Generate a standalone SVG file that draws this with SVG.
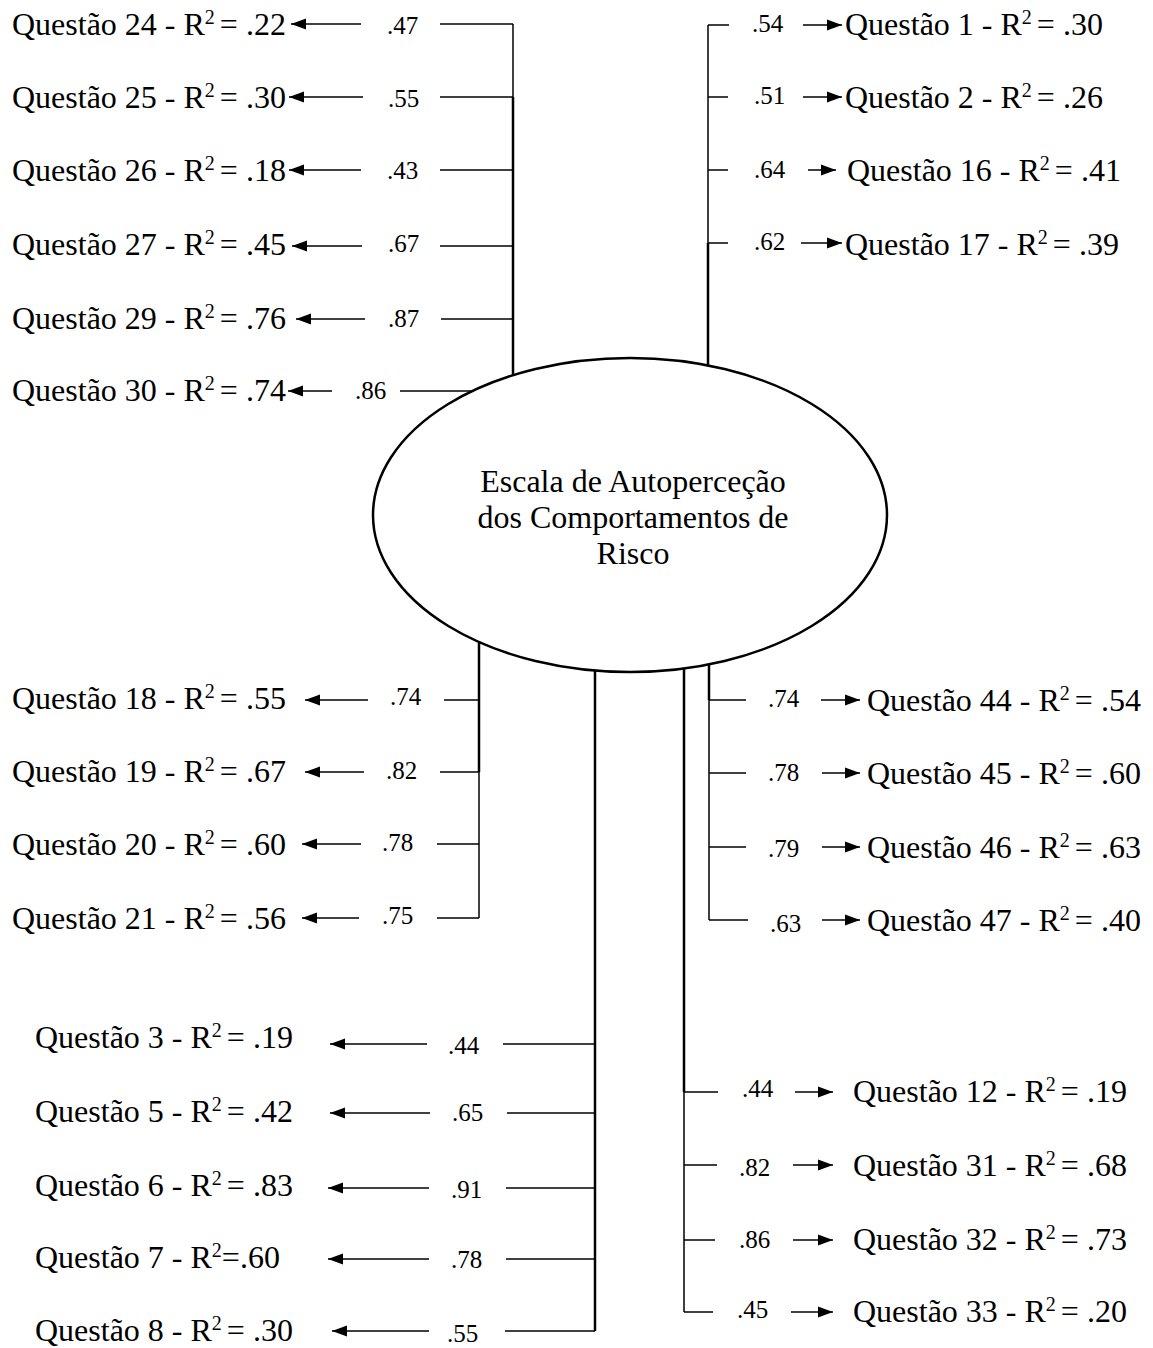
<svg xmlns="http://www.w3.org/2000/svg" width="1153" height="1348" viewBox="0 0 1153 1348">
<defs>
<style>
.t{font-family:"Liberation Serif","Times New Roman",serif;font-size:32px;fill:#000}
.n{font-family:"Liberation Serif","Times New Roman",serif;font-size:25px;fill:#000}
.s{font-size:20px}
.c{text-anchor:middle}
.ln{stroke:#000;stroke-width:1.5;fill:none}
.tk{stroke:#000;stroke-width:2.5;fill:none}
.ar{stroke:#000;stroke-width:1.5;fill:none;marker-end:url(#ah)}
</style>
<marker id="ah" markerUnits="userSpaceOnUse" markerWidth="16" markerHeight="12" refX="15" refY="6" orient="auto">
<path d="M0,0.5 L15,6 L0,11.5 z" fill="#000"/>
</marker>
</defs>
<rect width="1153" height="1348" fill="#fff"/>

<g id="connectors">
<!-- top-left -->
<line class="ln" x1="513" y1="24" x2="513" y2="97"/>
<line class="tk" x1="513" y1="97" x2="513" y2="377"/>
<line class="ln" x1="440" y1="24" x2="513" y2="24"/>
<line class="ln" x1="440" y1="97" x2="513" y2="97"/>
<line class="ln" x1="440" y1="170" x2="513" y2="170"/>
<line class="ln" x1="440" y1="246" x2="513" y2="246"/>
<line class="ln" x1="441" y1="319" x2="513" y2="319"/>
<line class="ln" x1="400" y1="391" x2="478" y2="391"/>
<line class="ar" x1="361" y1="24" x2="291" y2="24"/>
<line class="ar" x1="363" y1="97" x2="289" y2="97"/>
<line class="ar" x1="361" y1="170" x2="289" y2="170"/>
<line class="ar" x1="362" y1="246" x2="292" y2="246"/>
<line class="ar" x1="365" y1="319" x2="296" y2="319"/>
<line class="ar" x1="332" y1="391" x2="288" y2="391"/>
<!-- top-right -->
<line class="ln" x1="708" y1="25" x2="708" y2="243"/>
<line class="tk" x1="708" y1="243" x2="708" y2="366"/>
<line class="ln" x1="708" y1="25" x2="729" y2="25"/>
<line class="ln" x1="708" y1="97" x2="728" y2="97"/>
<line class="ln" x1="708" y1="170" x2="728" y2="170"/>
<line class="ln" x1="708" y1="243" x2="728" y2="243"/>
<line class="ar" x1="803" y1="25" x2="842" y2="25"/>
<line class="ar" x1="803" y1="97" x2="842" y2="97"/>
<line class="ar" x1="808" y1="170" x2="836" y2="170"/>
<line class="ar" x1="801" y1="243" x2="842" y2="243"/>
<!-- middle-left -->
<line class="tk" x1="479" y1="643" x2="479" y2="772"/>
<line class="ln" x1="479" y1="772" x2="479" y2="918"/>
<line class="ln" x1="444" y1="700" x2="479" y2="700"/>
<line class="ln" x1="440" y1="772" x2="479" y2="772"/>
<line class="ln" x1="437" y1="844" x2="479" y2="844"/>
<line class="ln" x1="437" y1="918" x2="479" y2="918"/>
<line class="ar" x1="368" y1="700" x2="305" y2="700"/>
<line class="ar" x1="364" y1="772" x2="305" y2="772"/>
<line class="ar" x1="361" y1="844" x2="302" y2="844"/>
<line class="ar" x1="359" y1="918" x2="302" y2="918"/>
<!-- bottom-center -->
<line class="tk" x1="595" y1="671" x2="595" y2="1331"/>
<line class="ln" x1="503" y1="1044" x2="595" y2="1044"/>
<line class="ln" x1="507" y1="1113" x2="595" y2="1113"/>
<line class="ln" x1="506" y1="1188" x2="595" y2="1188"/>
<line class="ln" x1="506" y1="1259" x2="595" y2="1259"/>
<line class="ln" x1="505" y1="1331" x2="595" y2="1331"/>
<line class="ar" x1="427" y1="1044" x2="330" y2="1044"/>
<line class="ar" x1="430" y1="1113" x2="330" y2="1113"/>
<line class="ar" x1="429" y1="1188" x2="328" y2="1188"/>
<line class="ar" x1="429" y1="1259" x2="328" y2="1259"/>
<line class="ar" x1="429" y1="1331" x2="332" y2="1331"/>
<!-- right-middle -->
<line class="tk" x1="709" y1="664" x2="709" y2="700"/>
<line class="ln" x1="709" y1="700" x2="709" y2="920"/>
<line class="ln" x1="709" y1="700" x2="746" y2="700"/>
<line class="ln" x1="709" y1="773" x2="746" y2="773"/>
<line class="ln" x1="709" y1="847" x2="746" y2="847"/>
<line class="ln" x1="709" y1="920" x2="748" y2="920"/>
<line class="ar" x1="821" y1="700" x2="860" y2="700"/>
<line class="ar" x1="822" y1="773" x2="860" y2="773"/>
<line class="ar" x1="822" y1="847" x2="860" y2="847"/>
<line class="ar" x1="822" y1="920" x2="860" y2="920"/>
<!-- bottom-right -->
<line class="tk" x1="684" y1="668" x2="684" y2="1092"/>
<line class="ln" x1="684" y1="1092" x2="684" y2="1312"/>
<line class="ln" x1="684" y1="1092" x2="718" y2="1092"/>
<line class="ln" x1="684" y1="1165" x2="717" y2="1165"/>
<line class="ln" x1="684" y1="1240" x2="715" y2="1240"/>
<line class="ln" x1="684" y1="1312" x2="713" y2="1312"/>
<line class="ar" x1="795" y1="1092" x2="833" y2="1092"/>
<line class="ar" x1="793" y1="1165" x2="833" y2="1165"/>
<line class="ar" x1="793" y1="1240" x2="833" y2="1240"/>
<line class="ar" x1="791" y1="1312" x2="833" y2="1312"/>
</g>

<g id="factor">
<ellipse cx="630" cy="515" rx="257" ry="157" fill="#fff" stroke="#000" stroke-width="2.5"/>
<text class="t c" x="633" y="492">Escala de Autoperceção</text>
<text class="t c" x="633" y="528">dos Comportamentos de</text>
<text class="t c" x="633" y="564">Risco</text>
</g>

<g id="loadings">
<text class="n" x="387" y="34">.47</text>
<text class="n" x="388" y="107">.55</text>
<text class="n" x="387" y="179">.43</text>
<text class="n" x="388" y="252">.67</text>
<text class="n" x="388" y="327">.87</text>
<text class="n" x="355" y="399">.86</text>
<text class="n" x="752" y="32">.54</text>
<text class="n" x="754" y="104">.51</text>
<text class="n" x="754" y="178">.64</text>
<text class="n" x="754" y="250">.62</text>
<text class="n" x="390" y="705">.74</text>
<text class="n" x="386" y="779">.82</text>
<text class="n" x="382" y="851">.78</text>
<text class="n" x="382" y="924">.75</text>
<text class="n" x="448" y="1054">.44</text>
<text class="n" x="452" y="1121">.65</text>
<text class="n" x="451" y="1198">.91</text>
<text class="n" x="451" y="1268">.78</text>
<text class="n" x="447" y="1342">.55</text>
<text class="n" x="768" y="707">.74</text>
<text class="n" x="768" y="781">.78</text>
<text class="n" x="768" y="857">.79</text>
<text class="n" x="770" y="932">.63</text>
<text class="n" x="742" y="1097">.44</text>
<text class="n" x="739" y="1176">.82</text>
<text class="n" x="739" y="1248">.86</text>
<text class="n" x="737" y="1318">.45</text>
</g>

<g id="q24"><text class="t" x="12" y="35">Questão 24 - R<tspan class="s" dy="-11">2 </tspan><tspan dy="11">= .22</tspan></text></g>
<g id="q25"><text class="t" x="12" y="108">Questão 25 - R<tspan class="s" dy="-11">2 </tspan><tspan dy="11">= .30</tspan></text></g>
<g id="q26"><text class="t" x="12" y="181">Questão 26 - R<tspan class="s" dy="-11">2 </tspan><tspan dy="11">= .18</tspan></text></g>
<g id="q27"><text class="t" x="12" y="255">Questão 27 - R<tspan class="s" dy="-11">2 </tspan><tspan dy="11">= .45</tspan></text></g>
<g id="q29"><text class="t" x="12" y="329">Questão 29 - R<tspan class="s" dy="-11">2 </tspan><tspan dy="11">= .76</tspan></text></g>
<g id="q30"><text class="t" x="12" y="401">Questão 30 - R<tspan class="s" dy="-11">2 </tspan><tspan dy="11">= .74</tspan></text></g>

<g id="q1"><text class="t" x="845" y="35">Questão 1 - R<tspan class="s" dy="-11">2 </tspan><tspan dy="11">= .30</tspan></text></g>
<g id="q2"><text class="t" x="845" y="108">Questão 2 - R<tspan class="s" dy="-11">2 </tspan><tspan dy="11">= .26</tspan></text></g>
<g id="q16"><text class="t" x="847" y="181">Questão 16 - R<tspan class="s" dy="-11">2 </tspan><tspan dy="11">= .41</tspan></text></g>
<g id="q17"><text class="t" x="845" y="255">Questão 17 - R<tspan class="s" dy="-11">2 </tspan><tspan dy="11">= .39</tspan></text></g>

<g id="q18"><text class="t" x="12" y="709">Questão 18 - R<tspan class="s" dy="-11">2 </tspan><tspan dy="11">= .55</tspan></text></g>
<g id="q19"><text class="t" x="12" y="782">Questão 19 - R<tspan class="s" dy="-11">2 </tspan><tspan dy="11">= .67</tspan></text></g>
<g id="q20"><text class="t" x="12" y="855">Questão 20 - R<tspan class="s" dy="-11">2 </tspan><tspan dy="11">= .60</tspan></text></g>
<g id="q21"><text class="t" x="12" y="929">Questão 21 - R<tspan class="s" dy="-11">2 </tspan><tspan dy="11">= .56</tspan></text></g>

<g id="q3"><text class="t" x="35" y="1048">Questão 3 - R<tspan class="s" dy="-11">2 </tspan><tspan dy="11">= .19</tspan></text></g>
<g id="q5"><text class="t" x="35" y="1122">Questão 5 - R<tspan class="s" dy="-11">2 </tspan><tspan dy="11">= .42</tspan></text></g>
<g id="q6"><text class="t" x="35" y="1196">Questão 6 - R<tspan class="s" dy="-11">2 </tspan><tspan dy="11">= .83</tspan></text></g>
<g id="q7"><text class="t" x="35" y="1268">Questão 7 - R<tspan class="s" dy="-11">2</tspan><tspan dy="11">=.60</tspan></text></g>
<g id="q8"><text class="t" x="35" y="1341">Questão 8 - R<tspan class="s" dy="-11">2 </tspan><tspan dy="11">= .30</tspan></text></g>

<g id="q44"><text class="t" x="867" y="711">Questão 44 - R<tspan class="s" dy="-11">2 </tspan><tspan dy="11">= .54</tspan></text></g>
<g id="q45"><text class="t" x="867" y="784">Questão 45 - R<tspan class="s" dy="-11">2 </tspan><tspan dy="11">= .60</tspan></text></g>
<g id="q46"><text class="t" x="867" y="858">Questão 46 - R<tspan class="s" dy="-11">2 </tspan><tspan dy="11">= .63</tspan></text></g>
<g id="q47"><text class="t" x="867" y="931">Questão 47 - R<tspan class="s" dy="-11">2 </tspan><tspan dy="11">= .40</tspan></text></g>

<g id="q12"><text class="t" x="853" y="1102">Questão 12 - R<tspan class="s" dy="-11">2 </tspan><tspan dy="11">= .19</tspan></text></g>
<g id="q31"><text class="t" x="853" y="1176">Questão 31 - R<tspan class="s" dy="-11">2 </tspan><tspan dy="11">= .68</tspan></text></g>
<g id="q32"><text class="t" x="853" y="1250">Questão 32 - R<tspan class="s" dy="-11">2 </tspan><tspan dy="11">= .73</tspan></text></g>
<g id="q33"><text class="t" x="853" y="1322">Questão 33 - R<tspan class="s" dy="-11">2 </tspan><tspan dy="11">= .20</tspan></text></g>
</svg>
